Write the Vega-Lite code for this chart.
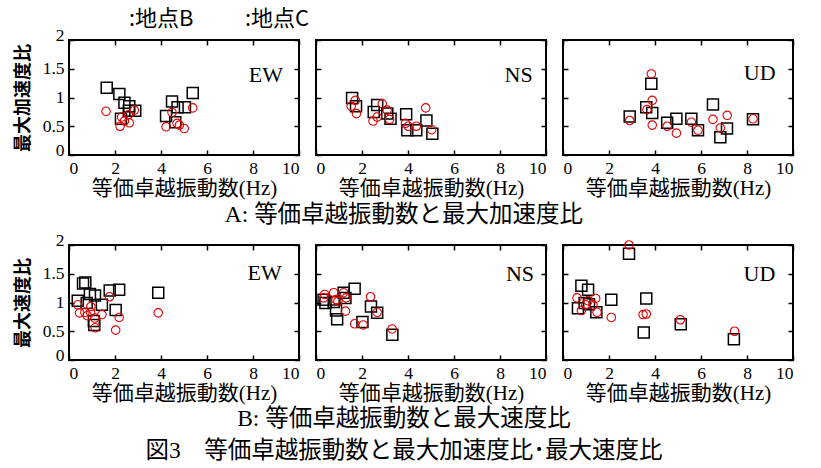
{
  "$schema": "https://vega.github.io/schema/vega-lite/v6.json",
  "background": "white",
  "padding": {"left": 13, "top": 8, "right": 5, "bottom": 5},
  "data": {"values": [
    {"q":"A","c":"EW","s":"地点B","f":1.64,"r":1.17},{"q":"A","c":"EW","s":"地点B","f":2.19,"r":1.06},{"q":"A","c":"EW","s":"地点B","f":2.41,"r":0.91},{"q":"A","c":"EW","s":"地点B","f":2.62,"r":0.85},{"q":"A","c":"EW","s":"地点B","f":2.88,"r":0.77},{"q":"A","c":"EW","s":"地点B","f":2.6,"r":0.77},{"q":"A","c":"EW","s":"地点B","f":2.26,"r":0.63},{"q":"A","c":"EW","s":"地点B","f":4.48,"r":0.93},{"q":"A","c":"EW","s":"地点B","f":4.72,"r":0.83},{"q":"A","c":"EW","s":"地点B","f":5.04,"r":0.83},{"q":"A","c":"EW","s":"地点B","f":5.38,"r":1.08},{"q":"A","c":"EW","s":"地点B","f":4.22,"r":0.68},{"q":"A","c":"EW","s":"地点B","f":4.62,"r":0.57},
    {"q":"A","c":"EW","s":"地点C","f":1.61,"r":0.76},{"q":"A","c":"EW","s":"地点C","f":2.22,"r":0.5},{"q":"A","c":"EW","s":"地点C","f":2.29,"r":0.66},{"q":"A","c":"EW","s":"地点C","f":2.41,"r":0.59},{"q":"A","c":"EW","s":"地点C","f":2.62,"r":0.56},{"q":"A","c":"EW","s":"地点C","f":2.58,"r":0.7},{"q":"A","c":"EW","s":"地点C","f":2.84,"r":0.78},{"q":"A","c":"EW","s":"地点C","f":4.22,"r":0.49},{"q":"A","c":"EW","s":"地点C","f":4.48,"r":0.74},{"q":"A","c":"EW","s":"地点C","f":4.7,"r":0.55},{"q":"A","c":"EW","s":"地点C","f":4.8,"r":0.52},{"q":"A","c":"EW","s":"地点C","f":5.01,"r":0.46},{"q":"A","c":"EW","s":"地点C","f":5.38,"r":0.82},
    {"q":"A","c":"NS","s":"地点B","f":1.57,"r":0.99},{"q":"A","c":"NS","s":"地点B","f":1.74,"r":0.85},{"q":"A","c":"NS","s":"地点B","f":2.51,"r":0.75},{"q":"A","c":"NS","s":"地点B","f":2.66,"r":0.87},{"q":"A","c":"NS","s":"地点B","f":3.1,"r":0.72},{"q":"A","c":"NS","s":"地点B","f":3.24,"r":0.63},{"q":"A","c":"NS","s":"地点B","f":3.92,"r":0.71},{"q":"A","c":"NS","s":"地点B","f":3.97,"r":0.43},{"q":"A","c":"NS","s":"地点B","f":4.36,"r":0.43},{"q":"A","c":"NS","s":"地点B","f":4.8,"r":0.6},{"q":"A","c":"NS","s":"地点B","f":5.06,"r":0.37},
    {"q":"A","c":"NS","s":"地点C","f":1.71,"r":0.95},{"q":"A","c":"NS","s":"地点C","f":1.53,"r":0.85},{"q":"A","c":"NS","s":"地点C","f":1.76,"r":0.72},{"q":"A","c":"NS","s":"地点C","f":2.88,"r":0.89},{"q":"A","c":"NS","s":"地点C","f":3.09,"r":0.78},{"q":"A","c":"NS","s":"地点C","f":2.66,"r":0.66},{"q":"A","c":"NS","s":"地点C","f":2.48,"r":0.59},{"q":"A","c":"NS","s":"地点C","f":3.2,"r":0.62},{"q":"A","c":"NS","s":"地点C","f":3.89,"r":0.55},{"q":"A","c":"NS","s":"地点C","f":4.01,"r":0.5},{"q":"A","c":"NS","s":"地点C","f":4.36,"r":0.5},{"q":"A","c":"NS","s":"地点C","f":4.77,"r":0.82},{"q":"A","c":"NS","s":"地点C","f":5.03,"r":0.44},
    {"q":"A","c":"UD","s":"地点B","f":3.84,"r":1.24},{"q":"A","c":"UD","s":"地点B","f":3.62,"r":0.83},{"q":"A","c":"UD","s":"地点B","f":3.88,"r":0.73},{"q":"A","c":"UD","s":"地点B","f":2.9,"r":0.67},{"q":"A","c":"UD","s":"地点B","f":4.53,"r":0.56},{"q":"A","c":"UD","s":"地点B","f":4.93,"r":0.63},{"q":"A","c":"UD","s":"地点B","f":5.58,"r":0.63},{"q":"A","c":"UD","s":"地点B","f":5.87,"r":0.43},{"q":"A","c":"UD","s":"地点B","f":6.52,"r":0.88},{"q":"A","c":"UD","s":"地点B","f":6.84,"r":0.31},{"q":"A","c":"UD","s":"地点B","f":7.13,"r":0.46},{"q":"A","c":"UD","s":"地点B","f":8.26,"r":0.62},
    {"q":"A","c":"UD","s":"地点C","f":3.84,"r":1.41},{"q":"A","c":"UD","s":"地点C","f":3.88,"r":0.95},{"q":"A","c":"UD","s":"地点C","f":3.65,"r":0.79},{"q":"A","c":"UD","s":"地点C","f":2.9,"r":0.6},{"q":"A","c":"UD","s":"地点C","f":3.88,"r":0.52},{"q":"A","c":"UD","s":"地点C","f":4.53,"r":0.5},{"q":"A","c":"UD","s":"地点C","f":4.93,"r":0.38},{"q":"A","c":"UD","s":"地点C","f":5.58,"r":0.57},{"q":"A","c":"UD","s":"地点C","f":5.87,"r":0.43},{"q":"A","c":"UD","s":"地点C","f":6.52,"r":0.62},{"q":"A","c":"UD","s":"地点C","f":6.84,"r":0.47},{"q":"A","c":"UD","s":"地点C","f":7.14,"r":0.69},{"q":"A","c":"UD","s":"地点C","f":8.26,"r":0.63},
    {"q":"B","c":"EW","s":"地点B","f":0.38,"r":1.03},{"q":"B","c":"EW","s":"地点B","f":0.71,"r":1.35},{"q":"B","c":"EW","s":"地点B","f":0.61,"r":1.33},{"q":"B","c":"EW","s":"地点B","f":0.91,"r":1.15},{"q":"B","c":"EW","s":"地点B","f":1.13,"r":1.12},{"q":"B","c":"EW","s":"地点B","f":1.43,"r":0.96},{"q":"B","c":"EW","s":"地点B","f":1.77,"r":1.21},{"q":"B","c":"EW","s":"地点B","f":2.18,"r":1.22},{"q":"B","c":"EW","s":"地点B","f":2.03,"r":0.87},{"q":"B","c":"EW","s":"地点B","f":1.1,"r":0.61},{"q":"B","c":"EW","s":"地点B","f":1.08,"r":0.68},{"q":"B","c":"EW","s":"地点B","f":3.88,"r":1.17},{"q":"B","c":"EW","s":"地点B","f":0.77,"r":0.99},
    {"q":"B","c":"EW","s":"地点C","f":0.38,"r":0.96},{"q":"B","c":"EW","s":"地点C","f":0.46,"r":0.82},{"q":"B","c":"EW","s":"地点C","f":0.69,"r":0.83},{"q":"B","c":"EW","s":"地点C","f":0.79,"r":0.77},{"q":"B","c":"EW","s":"地点C","f":0.95,"r":0.93},{"q":"B","c":"EW","s":"地点C","f":0.94,"r":0.83},{"q":"B","c":"EW","s":"地点C","f":1.12,"r":0.73},{"q":"B","c":"EW","s":"地点C","f":1.14,"r":0.56},{"q":"B","c":"EW","s":"地点C","f":1.43,"r":0.79},{"q":"B","c":"EW","s":"地点C","f":1.76,"r":1.1},{"q":"B","c":"EW","s":"地点C","f":2.03,"r":0.52},{"q":"B","c":"EW","s":"地点C","f":2.18,"r":0.74},{"q":"B","c":"EW","s":"地点C","f":3.88,"r":0.82},
    {"q":"B","c":"NS","s":"地点B","f":0.33,"r":1.05},{"q":"B","c":"NS","s":"地点B","f":0.41,"r":0.99},{"q":"B","c":"NS","s":"地点B","f":0.77,"r":1.01},{"q":"B","c":"NS","s":"地点B","f":0.87,"r":0.86},{"q":"B","c":"NS","s":"地点B","f":0.92,"r":0.71},{"q":"B","c":"NS","s":"地点B","f":1.2,"r":1.17},{"q":"B","c":"NS","s":"地点B","f":1.28,"r":1.08},{"q":"B","c":"NS","s":"地点B","f":1.68,"r":1.24},{"q":"B","c":"NS","s":"地点B","f":2.39,"r":0.93},{"q":"B","c":"NS","s":"地点B","f":2.66,"r":0.82},{"q":"B","c":"NS","s":"地点B","f":2.02,"r":0.66},{"q":"B","c":"NS","s":"地点B","f":3.32,"r":0.44},
    {"q":"B","c":"NS","s":"地点C","f":0.38,"r":1.14},{"q":"B","c":"NS","s":"地点C","f":0.33,"r":1.08},{"q":"B","c":"NS","s":"地点C","f":0.77,"r":1.17},{"q":"B","c":"NS","s":"地点C","f":0.87,"r":1.05},{"q":"B","c":"NS","s":"地点C","f":1.2,"r":1.17},{"q":"B","c":"NS","s":"地点C","f":1.31,"r":1.08},{"q":"B","c":"NS","s":"地点C","f":1.28,"r":0.85},{"q":"B","c":"NS","s":"地点C","f":2.37,"r":1.1},{"q":"B","c":"NS","s":"地点C","f":2.66,"r":0.83},{"q":"B","c":"NS","s":"地点C","f":1.68,"r":0.63},{"q":"B","c":"NS","s":"地点C","f":2.05,"r":0.61},{"q":"B","c":"NS","s":"地点C","f":3.31,"r":0.54},{"q":"B","c":"NS","s":"地点C","f":0.95,"r":1.02},
    {"q":"B","c":"UD","s":"地点B","f":2.87,"r":1.85},{"q":"B","c":"UD","s":"地点B","f":0.8,"r":1.29},{"q":"B","c":"UD","s":"地点B","f":1.09,"r":1.22},{"q":"B","c":"UD","s":"地点B","f":0.65,"r":0.9},{"q":"B","c":"UD","s":"地点B","f":0.94,"r":0.99},{"q":"B","c":"UD","s":"地点B","f":1.13,"r":0.97},{"q":"B","c":"UD","s":"地点B","f":1.45,"r":0.83},{"q":"B","c":"UD","s":"地点B","f":2.1,"r":1.05},{"q":"B","c":"UD","s":"地点B","f":3.62,"r":1.07},{"q":"B","c":"UD","s":"地点B","f":3.51,"r":0.48},{"q":"B","c":"UD","s":"地点B","f":5.12,"r":0.62},{"q":"B","c":"UD","s":"地点B","f":7.43,"r":0.36},
    {"q":"B","c":"UD","s":"地点C","f":2.87,"r":2.0},{"q":"B","c":"UD","s":"地点C","f":0.61,"r":1.08},{"q":"B","c":"UD","s":"地点C","f":0.8,"r":0.86},{"q":"B","c":"UD","s":"地点C","f":0.98,"r":0.96},{"q":"B","c":"UD","s":"地点C","f":1.09,"r":1.03},{"q":"B","c":"UD","s":"地点C","f":1.3,"r":0.96},{"q":"B","c":"UD","s":"地点C","f":1.42,"r":1.07},{"q":"B","c":"UD","s":"地点C","f":1.48,"r":0.83},{"q":"B","c":"UD","s":"地点C","f":2.1,"r":0.74},{"q":"B","c":"UD","s":"地点C","f":3.48,"r":0.79},{"q":"B","c":"UD","s":"地点C","f":3.62,"r":0.8},{"q":"B","c":"UD","s":"地点C","f":5.1,"r":0.7},{"q":"B","c":"UD","s":"地点C","f":7.46,"r":0.5}
  ]},
  "title": {"text": "図3　等価卓越振動数と最大加速度比･最大速度比", "orient": "bottom", "anchor": "middle", "fontSize": 23.5, "fontWeight": "normal", "font": "Liberation Serif, Noto Sans CJK JP", "offset": 9, "color": "black"},
  "spacing": 4,
  "vconcat": [
    {
      "hconcat": [
        {"width": 230, "height": 115,
         "resolve": {"axis": {"x": "independent", "y": "independent"}},
         "layer": [
          {"transform": [{"filter": "datum.q=='A' && datum.c=='EW'"}],
           "mark": {"type": "point", "filled": false, "opacity": 1},
           "encoding": {
            "x": {"field": "f", "type": "quantitative", "scale": {"domain": [0, 10], "nice": false}, "axis": {"title": "等価卓越振動数(Hz)", "values": [0, 2, 4, 6, 8, 10]}},
            "y": {"field": "r", "type": "quantitative", "scale": {"domain": [0, 2], "nice": false}, "axis": {"title": "最大加速度比", "values": [0, 0.5, 1, 1.5, 2], "format": "~g", "labelBaseline": {"condition": {"test": "datum.value == 0 || datum.value == 2", "value": "alphabetic"}, "value": "middle"}}},
            "color": {"field": "s", "type": "nominal", "scale": {"domain": ["地点B", "地点C"], "range": ["#000000", "#e00000"]}, "legend": {"orient": "none", "legendX": 38, "legendY": -32, "direction": "horizontal", "title": null, "symbolOpacity": 0, "symbolSize": 0, "symbolStrokeWidth": 0, "labelOffset": 0, "columnPadding": 29, "labelFont": "Noto Sans CJK JP", "labelFontSize": 22, "labelExpr": "':' + datum.label", "encode": {"labels": {"update": {"fill": {"signal": "datum.value === '地点C' ? '#e00000' : '#000000'"}}}}}},
            "shape": {"field": "s", "type": "nominal", "scale": {"domain": ["地点B", "地点C"], "range": ["square", "circle"]}, "legend": null},
            "size": {"field": "s", "type": "ordinal", "scale": {"domain": ["地点B", "地点C"], "range": [121, 72]}, "legend": null},
            "strokeWidth": {"field": "s", "type": "ordinal", "scale": {"domain": ["地点B", "地点C"], "range": [1.5, 1.1]}, "legend": null}
           }},
          {"transform": [{"filter": "datum.q=='A' && datum.c=='EW'"}],
           "mark": {"type": "point", "opacity": 0},
           "encoding": {
            "x": {"field": "f", "type": "quantitative", "scale": {"domain": [0, 10], "nice": false}, "axis": {"orient": "top", "labels": false, "title": null, "values": [0, 2, 4, 6, 8, 10]}},
            "y": {"field": "r", "type": "quantitative", "scale": {"domain": [0, 2], "nice": false}, "axis": {"orient": "right", "labels": false, "title": null, "values": [0, 0.5, 1, 1.5, 2]}}
           }},
          {"data": {"values": [{"label": "EW"}]},
           "mark": {"type": "text", "align": "right", "baseline": "middle", "font": "Liberation Serif", "fontSize": 22, "color": "black"},
           "encoding": {
            "x": {"datum": 9.3, "type": "quantitative", "scale": {"domain": [0, 10], "nice": false}, "axis": null},
            "y": {"datum": 1.4, "type": "quantitative", "scale": {"domain": [0, 2], "nice": false}, "axis": null},
            "text": {"field": "label"}
           }}
         ]},
        {"width": 230, "height": 115,
         "resolve": {"axis": {"x": "independent", "y": "independent"}},
         "layer": [
          {"transform": [{"filter": "datum.q=='A' && datum.c=='NS'"}],
           "mark": {"type": "point", "filled": false, "opacity": 1},
           "encoding": {
            "x": {"field": "f", "type": "quantitative", "scale": {"domain": [0, 10], "nice": false}, "axis": {"title": "等価卓越振動数(Hz)", "values": [0, 2, 4, 6, 8, 10]}},
            "y": {"field": "r", "type": "quantitative", "scale": {"domain": [0, 2], "nice": false}, "axis": {"title": null, "labels": false, "values": [0, 0.5, 1, 1.5, 2]}},
            "color": {"field": "s", "type": "nominal", "scale": {"domain": ["地点B", "地点C"], "range": ["#000000", "#e00000"]}},
            "shape": {"field": "s", "type": "nominal", "scale": {"domain": ["地点B", "地点C"], "range": ["square", "circle"]}, "legend": null},
            "size": {"field": "s", "type": "ordinal", "scale": {"domain": ["地点B", "地点C"], "range": [121, 72]}, "legend": null},
            "strokeWidth": {"field": "s", "type": "ordinal", "scale": {"domain": ["地点B", "地点C"], "range": [1.5, 1.1]}, "legend": null}
           }},
          {"transform": [{"filter": "datum.q=='A' && datum.c=='NS'"}],
           "mark": {"type": "point", "opacity": 0},
           "encoding": {
            "x": {"field": "f", "type": "quantitative", "scale": {"domain": [0, 10], "nice": false}, "axis": {"orient": "top", "labels": false, "title": null, "values": [0, 2, 4, 6, 8, 10]}},
            "y": {"field": "r", "type": "quantitative", "scale": {"domain": [0, 2], "nice": false}, "axis": {"orient": "right", "labels": false, "title": null, "values": [0, 0.5, 1, 1.5, 2]}}
           }},
          {"data": {"values": [{"label": "NS"}]},
           "mark": {"type": "text", "align": "right", "baseline": "middle", "font": "Liberation Serif", "fontSize": 22, "color": "black"},
           "encoding": {
            "x": {"datum": 9.42, "type": "quantitative", "scale": {"domain": [0, 10], "nice": false}, "axis": null},
            "y": {"datum": 1.4, "type": "quantitative", "scale": {"domain": [0, 2], "nice": false}, "axis": null},
            "text": {"field": "label"}
           }}
         ]},
        {"width": 230, "height": 115,
         "resolve": {"axis": {"x": "independent", "y": "independent"}},
         "layer": [
          {"transform": [{"filter": "datum.q=='A' && datum.c=='UD'"}],
           "mark": {"type": "point", "filled": false, "opacity": 1},
           "encoding": {
            "x": {"field": "f", "type": "quantitative", "scale": {"domain": [0, 10], "nice": false}, "axis": {"title": "等価卓越振動数(Hz)", "values": [0, 2, 4, 6, 8, 10]}},
            "y": {"field": "r", "type": "quantitative", "scale": {"domain": [0, 2], "nice": false}, "axis": {"title": null, "labels": false, "values": [0, 0.5, 1, 1.5, 2]}},
            "color": {"field": "s", "type": "nominal", "scale": {"domain": ["地点B", "地点C"], "range": ["#000000", "#e00000"]}},
            "shape": {"field": "s", "type": "nominal", "scale": {"domain": ["地点B", "地点C"], "range": ["square", "circle"]}, "legend": null},
            "size": {"field": "s", "type": "ordinal", "scale": {"domain": ["地点B", "地点C"], "range": [121, 72]}, "legend": null},
            "strokeWidth": {"field": "s", "type": "ordinal", "scale": {"domain": ["地点B", "地点C"], "range": [1.5, 1.1]}, "legend": null}
           }},
          {"transform": [{"filter": "datum.q=='A' && datum.c=='UD'"}],
           "mark": {"type": "point", "opacity": 0},
           "encoding": {
            "x": {"field": "f", "type": "quantitative", "scale": {"domain": [0, 10], "nice": false}, "axis": {"orient": "top", "labels": false, "title": null, "values": [0, 2, 4, 6, 8, 10]}},
            "y": {"field": "r", "type": "quantitative", "scale": {"domain": [0, 2], "nice": false}, "axis": {"orient": "right", "labels": false, "title": null, "values": [0, 0.5, 1, 1.5, 2]}}
           }},
          {"data": {"values": [{"label": "UD"}]},
           "mark": {"type": "text", "align": "right", "baseline": "middle", "font": "Liberation Serif", "fontSize": 22, "color": "black"},
           "encoding": {
            "x": {"datum": 9.24, "type": "quantitative", "scale": {"domain": [0, 10], "nice": false}, "axis": null},
            "y": {"datum": 1.43, "type": "quantitative", "scale": {"domain": [0, 2], "nice": false}, "axis": null},
            "text": {"field": "label"}
           }}
         ]}
      ],
      "spacing": 17,
      "bounds": "flush",
      "title": {"text": "A: 等価卓越振動数と最大加速度比", "orient": "bottom", "anchor": "middle", "fontSize": 23.5, "fontWeight": "normal", "font": "Liberation Serif, Noto Sans CJK JP", "offset": 3, "color": "black"}
    },
    {
      "hconcat": [
        {"width": 230, "height": 115,
         "resolve": {"axis": {"x": "independent", "y": "independent"}},
         "layer": [
          {"transform": [{"filter": "datum.q=='B' && datum.c=='EW'"}],
           "mark": {"type": "point", "filled": false, "opacity": 1},
           "encoding": {
            "x": {"field": "f", "type": "quantitative", "scale": {"domain": [0, 10], "nice": false}, "axis": {"title": "等価卓越振動数(Hz)", "values": [0, 2, 4, 6, 8, 10]}},
            "y": {"field": "r", "type": "quantitative", "scale": {"domain": [0, 2], "nice": false}, "axis": {"title": "最大速度比", "values": [0, 0.5, 1, 1.5, 2], "format": "~g", "labelBaseline": {"condition": {"test": "datum.value == 0 || datum.value == 2", "value": "alphabetic"}, "value": "middle"}}},
            "color": {"field": "s", "type": "nominal", "scale": {"domain": ["地点B", "地点C"], "range": ["#000000", "#e00000"]}},
            "shape": {"field": "s", "type": "nominal", "scale": {"domain": ["地点B", "地点C"], "range": ["square", "circle"]}, "legend": null},
            "size": {"field": "s", "type": "ordinal", "scale": {"domain": ["地点B", "地点C"], "range": [121, 72]}, "legend": null},
            "strokeWidth": {"field": "s", "type": "ordinal", "scale": {"domain": ["地点B", "地点C"], "range": [1.5, 1.1]}, "legend": null}
           }},
          {"transform": [{"filter": "datum.q=='B' && datum.c=='EW'"}],
           "mark": {"type": "point", "opacity": 0},
           "encoding": {
            "x": {"field": "f", "type": "quantitative", "scale": {"domain": [0, 10], "nice": false}, "axis": {"orient": "top", "labels": false, "title": null, "values": [0, 2, 4, 6, 8, 10]}},
            "y": {"field": "r", "type": "quantitative", "scale": {"domain": [0, 2], "nice": false}, "axis": {"orient": "right", "labels": false, "title": null, "values": [0, 0.5, 1, 1.5, 2]}}
           }},
          {"data": {"values": [{"label": "EW"}]},
           "mark": {"type": "text", "align": "right", "baseline": "middle", "font": "Liberation Serif", "fontSize": 22, "color": "black"},
           "encoding": {
            "x": {"datum": 9.25, "type": "quantitative", "scale": {"domain": [0, 10], "nice": false}, "axis": null},
            "y": {"datum": 1.52, "type": "quantitative", "scale": {"domain": [0, 2], "nice": false}, "axis": null},
            "text": {"field": "label"}
           }}
         ]},
        {"width": 230, "height": 115,
         "resolve": {"axis": {"x": "independent", "y": "independent"}},
         "layer": [
          {"transform": [{"filter": "datum.q=='B' && datum.c=='NS'"}],
           "mark": {"type": "point", "filled": false, "opacity": 1},
           "encoding": {
            "x": {"field": "f", "type": "quantitative", "scale": {"domain": [0, 10], "nice": false}, "axis": {"title": "等価卓越振動数(Hz)", "values": [0, 2, 4, 6, 8, 10]}},
            "y": {"field": "r", "type": "quantitative", "scale": {"domain": [0, 2], "nice": false}, "axis": {"title": null, "labels": false, "values": [0, 0.5, 1, 1.5, 2]}},
            "color": {"field": "s", "type": "nominal", "scale": {"domain": ["地点B", "地点C"], "range": ["#000000", "#e00000"]}},
            "shape": {"field": "s", "type": "nominal", "scale": {"domain": ["地点B", "地点C"], "range": ["square", "circle"]}, "legend": null},
            "size": {"field": "s", "type": "ordinal", "scale": {"domain": ["地点B", "地点C"], "range": [121, 72]}, "legend": null},
            "strokeWidth": {"field": "s", "type": "ordinal", "scale": {"domain": ["地点B", "地点C"], "range": [1.5, 1.1]}, "legend": null}
           }},
          {"transform": [{"filter": "datum.q=='B' && datum.c=='NS'"}],
           "mark": {"type": "point", "opacity": 0},
           "encoding": {
            "x": {"field": "f", "type": "quantitative", "scale": {"domain": [0, 10], "nice": false}, "axis": {"orient": "top", "labels": false, "title": null, "values": [0, 2, 4, 6, 8, 10]}},
            "y": {"field": "r", "type": "quantitative", "scale": {"domain": [0, 2], "nice": false}, "axis": {"orient": "right", "labels": false, "title": null, "values": [0, 0.5, 1, 1.5, 2]}}
           }},
          {"data": {"values": [{"label": "NS"}]},
           "mark": {"type": "text", "align": "right", "baseline": "middle", "font": "Liberation Serif", "fontSize": 22, "color": "black"},
           "encoding": {
            "x": {"datum": 9.48, "type": "quantitative", "scale": {"domain": [0, 10], "nice": false}, "axis": null},
            "y": {"datum": 1.5, "type": "quantitative", "scale": {"domain": [0, 2], "nice": false}, "axis": null},
            "text": {"field": "label"}
           }}
         ]},
        {"width": 230, "height": 115,
         "resolve": {"axis": {"x": "independent", "y": "independent"}},
         "layer": [
          {"transform": [{"filter": "datum.q=='B' && datum.c=='UD'"}],
           "mark": {"type": "point", "filled": false, "opacity": 1},
           "encoding": {
            "x": {"field": "f", "type": "quantitative", "scale": {"domain": [0, 10], "nice": false}, "axis": {"title": "等価卓越振動数(Hz)", "values": [0, 2, 4, 6, 8, 10]}},
            "y": {"field": "r", "type": "quantitative", "scale": {"domain": [0, 2], "nice": false}, "axis": {"title": null, "labels": false, "values": [0, 0.5, 1, 1.5, 2]}},
            "color": {"field": "s", "type": "nominal", "scale": {"domain": ["地点B", "地点C"], "range": ["#000000", "#e00000"]}},
            "shape": {"field": "s", "type": "nominal", "scale": {"domain": ["地点B", "地点C"], "range": ["square", "circle"]}, "legend": null},
            "size": {"field": "s", "type": "ordinal", "scale": {"domain": ["地点B", "地点C"], "range": [121, 72]}, "legend": null},
            "strokeWidth": {"field": "s", "type": "ordinal", "scale": {"domain": ["地点B", "地点C"], "range": [1.5, 1.1]}, "legend": null}
           }},
          {"transform": [{"filter": "datum.q=='B' && datum.c=='UD'"}],
           "mark": {"type": "point", "opacity": 0},
           "encoding": {
            "x": {"field": "f", "type": "quantitative", "scale": {"domain": [0, 10], "nice": false}, "axis": {"orient": "top", "labels": false, "title": null, "values": [0, 2, 4, 6, 8, 10]}},
            "y": {"field": "r", "type": "quantitative", "scale": {"domain": [0, 2], "nice": false}, "axis": {"orient": "right", "labels": false, "title": null, "values": [0, 0.5, 1, 1.5, 2]}}
           }},
          {"data": {"values": [{"label": "UD"}]},
           "mark": {"type": "text", "align": "right", "baseline": "middle", "font": "Liberation Serif", "fontSize": 22, "color": "black"},
           "encoding": {
            "x": {"datum": 9.23, "type": "quantitative", "scale": {"domain": [0, 10], "nice": false}, "axis": null},
            "y": {"datum": 1.5, "type": "quantitative", "scale": {"domain": [0, 2], "nice": false}, "axis": null},
            "text": {"field": "label"}
           }}
         ]}
      ],
      "spacing": 17,
      "bounds": "flush",
      "title": {"text": "B: 等価卓越振動数と最大速度比", "orient": "bottom", "anchor": "middle", "fontSize": 23.5, "fontWeight": "normal", "font": "Liberation Serif, Noto Sans CJK JP", "offset": 2, "color": "black"}
    }
  ],
  "config": {
    "font": "Liberation Serif, Noto Sans CJK JP",
    "view": {"stroke": "black", "strokeWidth": 2},
    "axis": {"grid": false, "domain": false, "ticks": true, "tickSize": -5, "tickWidth": 1.5, "tickColor": "black", "labelFont": "Liberation Serif", "labelFontSize": 17.5, "labelColor": "black", "labelPadding": 10, "titleFont": "Liberation Serif, Noto Sans CJK JP", "titleFontSize": 21, "titleFontWeight": "normal", "titleColor": "black"},
    "axisX": {"labelPadding": 9, "titlePadding": 1},
    "axisY": {"titleFont": "Noto Sans CJK JP", "titleFontSize": 18, "titleFontWeight": "bold", "titlePadding": 10}
  }
}
